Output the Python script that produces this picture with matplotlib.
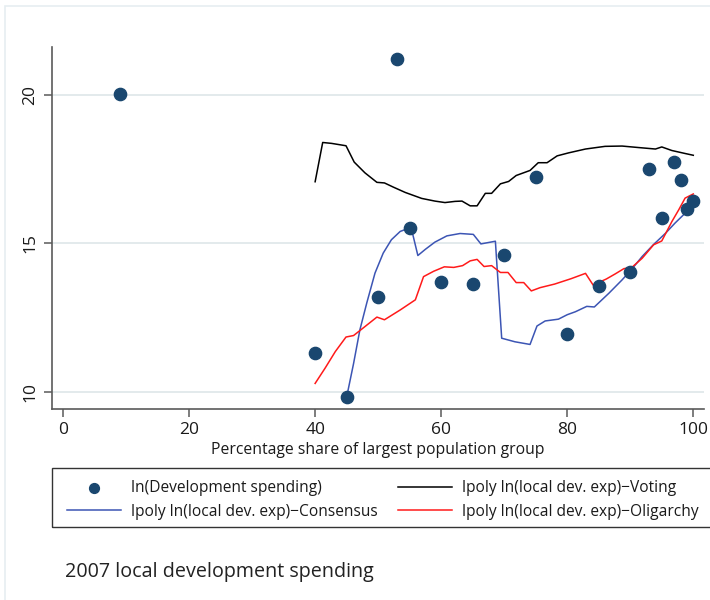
import matplotlib
matplotlib.use("Agg")
import matplotlib.pyplot as plt
from matplotlib.patches import Rectangle

plt.rcParams['font.family'] = ['Open Sans', 'DejaVu Sans']

# Observed log development spending by share of largest population group
share = [9, 40, 45, 50, 53, 55, 60, 65, 70, 75, 80, 85, 90, 93, 95, 97, 98, 99, 100]
ln_spending = [20.02, 11.31, 9.82, 13.18, 21.21, 15.51, 13.69, 13.63, 14.62, 17.23,
               11.95, 13.56, 14.05, 17.49, 15.84, 17.73, 17.13, 16.17, 16.41]

# Local polynomial fits by decision-making regime
voting_x = [40, 41.2, 42.6, 44.9, 46.2, 47.9, 49.8, 51.0, 52.4, 54.3, 56.9, 59.0, 60.6,
            62.2, 63.3, 64.6, 65.7, 67.0, 68.0, 69.4, 70.7, 71.9, 74.1, 75.4, 76.8, 78.4,
            80.2, 82.9, 86.0, 88.7, 91.3, 94.0, 95.0, 96.6, 98.7, 100]
voting_y = [17.07, 18.39, 18.36, 18.28, 17.73, 17.37, 17.05, 17.03, 16.89, 16.71, 16.51,
            16.42, 16.37, 16.41, 16.42, 16.26, 16.26, 16.68, 16.68, 17.0, 17.08, 17.28,
            17.45, 17.71, 17.71, 17.94, 18.04, 18.17, 18.26, 18.27, 18.22, 18.17, 18.24,
            18.12, 18.02, 17.96]

consensus_x = [45.0, 46.1, 47.1, 48.2, 49.5, 50.8, 52.1, 53.5, 54.9, 55.3, 56.3, 57.5,
               59.0, 60.9, 63.0, 65.1, 66.3, 68.6, 69.6, 71.7, 74.1, 75.2, 76.5, 78.6,
               80.0, 81.3, 83.1, 84.3, 86.6, 88.7, 90.2, 91.9, 93.7, 95.6, 97.1, 98.7, 100]
consensus_y = [9.83, 10.96, 12.09, 13.0, 14.0, 14.67, 15.12, 15.40, 15.51, 15.47, 14.59,
               14.80, 15.04, 15.25, 15.33, 15.30, 14.98, 15.07, 11.81, 11.69, 11.60, 12.22,
               12.39, 12.45, 12.60, 12.70, 12.88, 12.86, 13.32, 13.77, 14.12, 14.56, 14.96,
               15.34, 15.68, 16.01, 16.40]

oligarchy_x = [40, 41.6, 43.2, 44.9, 46.1, 47.9, 49.8, 51.0, 53.5, 55.9, 57.2, 58.8, 60.5,
               62.0, 63.4, 64.6, 65.7, 66.8, 68.0, 69.4, 70.6, 71.9, 73.1, 74.3, 75.7,
               78.0, 80.6, 82.9, 84.1, 86.2, 87.6, 89.0, 90.2, 91.9, 93.7, 95.0, 96.6,
               97.7, 98.7, 100]
oligarchy_y = [10.29, 10.81, 11.36, 11.85, 11.90, 12.20, 12.52, 12.43, 12.76, 13.10, 13.88,
               14.06, 14.21, 14.19, 14.25, 14.41, 14.46, 14.22, 14.25, 14.02, 14.02, 13.68,
               13.68, 13.40, 13.51, 13.63, 13.81, 13.99, 13.60, 13.80, 13.97, 14.15, 14.18,
               14.50, 14.95, 15.08, 15.73, 16.13, 16.52, 16.66]

x_ticks = [0, 20, 40, 60, 80, 100]
y_ticks = [10, 15, 20]

navy = '#1a476f'
axis_grey = '#5a5a5a'
text_col = '#1a1a1a'

fig = plt.figure(figsize=(7.1, 6.0), dpi=100)
fig.patches.append(Rectangle((5 / 710, -0.05), 1.1, 1 - 6 / 600 + 0.05,
                             transform=fig.transFigure, fill=False,
                             edgecolor='#e6eef1', linewidth=1.2, zorder=0))

ax = fig.add_axes([52 / 710, 1 - 409 / 600, (704 - 52) / 710, (409 - 47) / 600])

ax.grid(axis='y', color='#e1e8ea', linewidth=1.3, zorder=0)
ax.set_axisbelow(True)

pts = ax.scatter(share, ln_spending, s=78, color=navy, zorder=4,
                 label='ln(Development spending)')
l_vot, = ax.plot(voting_x, voting_y, color='black', lw=1.1, zorder=3,
                 label='lpoly ln(local dev. exp)\u2212Voting')
l_con, = ax.plot(consensus_x, consensus_y, color='#3c55b4', lw=1.1, zorder=3,
                 label='lpoly ln(local dev. exp)\u2212Consensus')
l_oli, = ax.plot(oligarchy_x, oligarchy_y, color='#ff1a1a', lw=1.1, zorder=3,
                 label='lpoly ln(local dev. exp)\u2212Oligarchy')

ax.set_xlim(-1.75, 101.7)
ax.set_ylim(9.43, 21.6)
ax.set_xticks(x_ticks)
ax.set_yticks(y_ticks)
ax.tick_params(axis='both', direction='out', length=6, width=1.1, color=axis_grey,
               labelsize=12.5, labelcolor=text_col)
ax.tick_params(axis='x', pad=3)
ax.tick_params(axis='y', pad=4)
for lab in ax.get_yticklabels():
    lab.set_rotation(90)
    lab.set_va('center')

for side in ('top', 'right'):
    ax.spines[side].set_visible(False)
for side in ('left', 'bottom'):
    ax.spines[side].set_color(axis_grey)
    ax.spines[side].set_linewidth(1.2)

ax.set_xlabel('Percentage share of largest population group', fontsize=11.3,
              color=text_col, labelpad=3)

# Legend box spanning the figure width
fig.patches.append(Rectangle((51.5 / 710, 1 - 527 / 600), 0.95, (527 - 468) / 600,
                             transform=fig.transFigure, fill=False,
                             edgecolor='#333333', linewidth=1.0, zorder=1))
leg = fig.legend(handles=[pts, l_con, l_vot, l_oli], ncol=2, frameon=False,
                 loc='upper left', bbox_to_anchor=(67 / 710, 1 - 480 / 600),
                 fontsize=11.2, handlelength=3.5, handletextpad=0.6,
                 columnspacing=1.3, labelspacing=0.5, markerscale=0.8,
                 borderpad=0, borderaxespad=0)
for t in leg.get_texts():
    t.set_color(text_col)

fig.text(65 / 710, 1 - 572 / 600, '2007 local development spending', fontsize=14.2,
         color='#222222', va='center', ha='left')

fig.savefig('out.png', dpi=100)
